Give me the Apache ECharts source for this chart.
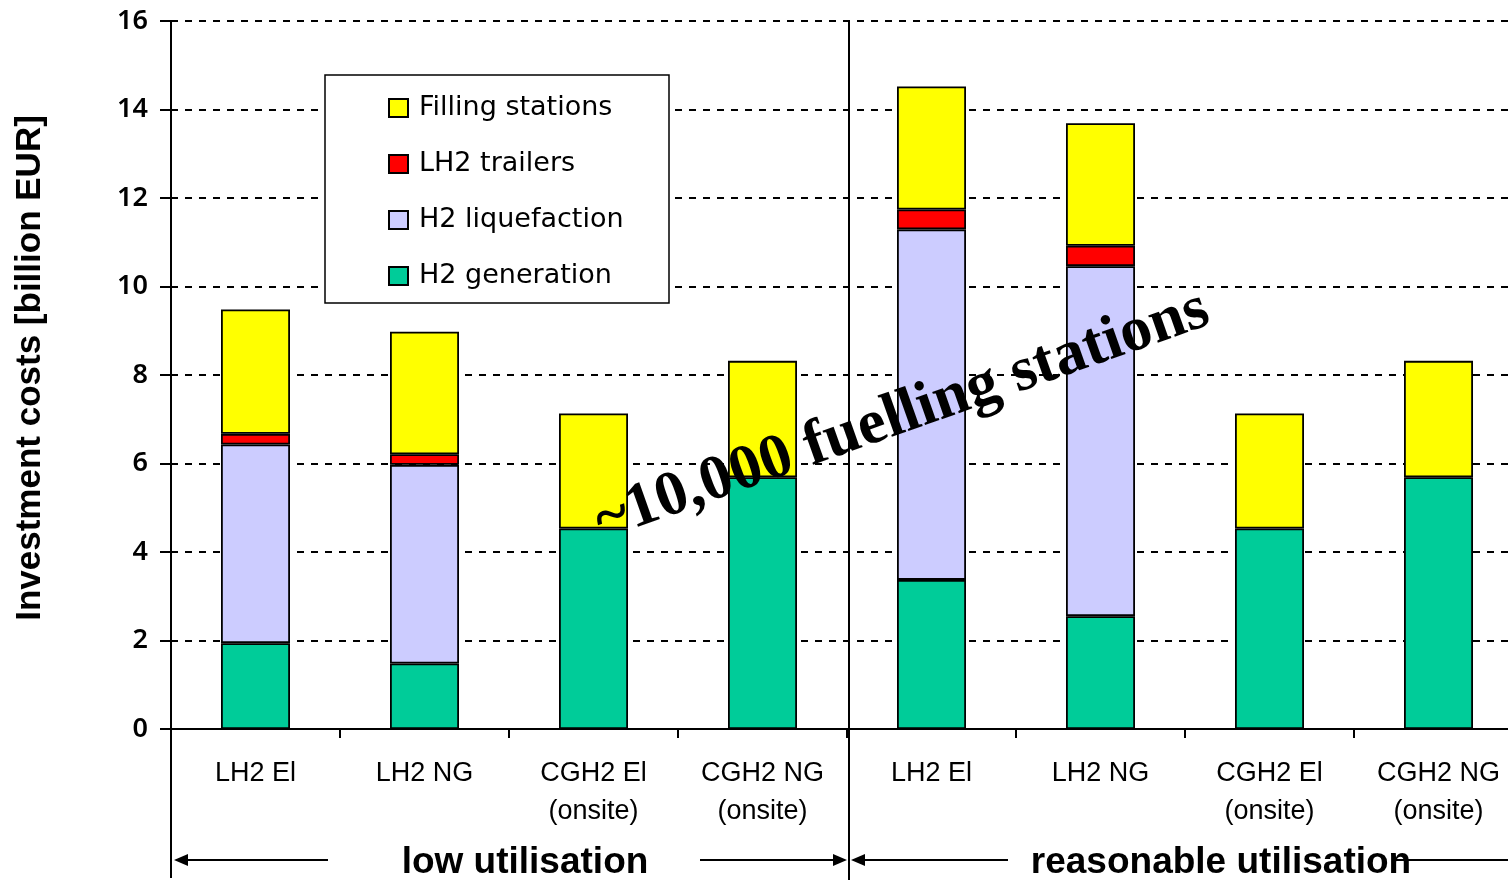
<!DOCTYPE html>
<html>
<head>
<meta charset="utf-8">
<script src="https://cdn.jsdelivr.net/npm/echarts@6/dist/echarts.min.js"></script>
<style>
html,body{margin:0;padding:0;background:#fff;}
#chart{width:1508px;height:880px;}
</style>
</head>
<body>
<div id="chart"></div>
<script>
// ---- data ----
var categories = ['LH2 El', 'LH2 NG', 'CGH2 El\n(onsite)', 'CGH2 NG\n(onsite)',
                  'LH2 El', 'LH2 NG', 'CGH2 El\n(onsite)', 'CGH2 NG\n(onsite)'];
var h2Generation   = [1.94, 1.48, 4.53, 5.69, 3.37, 2.55, 4.53, 5.69];
var h2Liquefaction = [4.49, 4.49, 0, 0, 7.92, 7.91, 0, 0];
var lh2Trailers    = [0.24, 0.24, 0, 0, 0.45, 0.46, 0, 0];
var fillingStations = [2.81, 2.77, 2.60, 2.63, 2.78, 2.77, 2.60, 2.63];
var yTicks = [0, 2, 4, 6, 8, 10, 12, 14, 16];
var groupLabels = ['low utilisation', 'reasonable utilisation'];
var annotation = '~10,000 fuelling stations';
var yTitle = 'Investment costs [billion EUR]';

function clean(arr){ return arr.map(function(v){ return v === 0 ? '-' : v; }); }

var chart = echarts.init(document.getElementById('chart'), null, {renderer:'canvas'});
var border = {borderColor:'#000', borderWidth:1.8};
function bar(name, data, color){
  return {
    name: name, type:'bar', stack:'total', barWidth:69,
    data: clean(data),
    itemStyle: Object.assign({color:color}, border),
    emphasis:{disabled:true}
  };
}

var sansN = 'Liberation Sans';
var arrowY = 860;
var graphics = [
  // legend box
  {type:'rect', shape:{x:325, y:75, width:344, height:228}, style:{fill:'#fff', stroke:'#000', lineWidth:1.5}, z:10},
  // vertical divider and left extension
  {type:'line', shape:{x1:849, y1:21, x2:849, y2:880}, style:{stroke:'#000', lineWidth:2}, z:30},
  {type:'line', shape:{x1:171, y1:729, x2:171, y2:878}, style:{stroke:'#000', lineWidth:2}, z:30},
  // arrows group 1
  {type:'line', shape:{x1:185, y1:arrowY, x2:328, y2:arrowY}, style:{stroke:'#000', lineWidth:2}, z:30},
  {type:'polygon', shape:{points:[[174,arrowY],[188,arrowY-6],[188,arrowY+6]]}, style:{fill:'#000'}, z:30},
  {type:'line', shape:{x1:700, y1:arrowY, x2:836, y2:arrowY}, style:{stroke:'#000', lineWidth:2}, z:30},
  {type:'polygon', shape:{points:[[847,arrowY],[833,arrowY-6],[833,arrowY+6]]}, style:{fill:'#000'}, z:30},
  // arrows group 2
  {type:'line', shape:{x1:862, y1:arrowY, x2:1008, y2:arrowY}, style:{stroke:'#000', lineWidth:2}, z:30},
  {type:'polygon', shape:{points:[[851,arrowY],[865,arrowY-6],[865,arrowY+6]]}, style:{fill:'#000'}, z:30},
  {type:'line', shape:{x1:1395, y1:arrowY, x2:1520, y2:arrowY}, style:{stroke:'#000', lineWidth:2}, z:30},
  // group labels
  {type:'text', x:525, y:863, style:{text:groupLabels[0], font:'bold 37px "Liberation Sans"', fill:'#000', align:'center', verticalAlign:'middle'}, z:40},
  {type:'text', x:1221, y:863, style:{text:groupLabels[1], font:'bold 37px "Liberation Sans"', fill:'#000', align:'center', verticalAlign:'middle'}, z:40},
  // y-axis title
  {type:'text', x:30, y:368, rotation:Math.PI/2, style:{text:yTitle, font:'bold 35px "Liberation Sans"', fill:'#000', align:'center', verticalAlign:'middle'}, z:40},
  // annotation
  {type:'text', x:902, y:416, rotation:19.5*Math.PI/180, style:{text:annotation, font:'bold 63px "Liberation Serif"', fill:'#000', align:'center', verticalAlign:'middle'}, z:100}
];

var option = {
  backgroundColor:'#fff',
  animation:false,
  grid:{left:171, width:1352, top:21, bottom:151, containLabel:false, outerBoundsMode:'none'},
  legend:{
    data:['Filling stations','LH2 trailers','H2 liquefaction','H2 generation'],
    orient:'vertical', left:388, top:94, padding:0,
    itemWidth:19, itemHeight:18, itemGap:28, icon:'rect',
    selectedMode:false, z:20,
    textStyle:{fontFamily:'DejaVu Sans', fontSize:27, color:'#000', lineHeight:28, padding:[0,0,0,6]}
  },
  xAxis:{
    type:'category', data:categories,
    axisLine:{lineStyle:{color:'#000', width:2}},
    axisTick:{show:true, length:9, interval:0, lineStyle:{color:'#000', width:2}},
    axisLabel:{interval:0, margin:26, fontFamily:sansN, fontSize:27, color:'#000', lineHeight:38},
    splitLine:{show:false}
  },
  yAxis:{
    type:'value', min:yTicks[0], max:yTicks[yTicks.length-1], interval:2,
    axisLine:{show:true, lineStyle:{color:'#000', width:2}},
    axisTick:{show:true, inside:false, length:11, lineStyle:{color:'#000', width:2}},
    axisLabel:{margin:23, fontFamily:'Noto Sans', fontWeight:600, fontSize:27, color:'#000'},
    splitLine:{show:true, lineStyle:{color:'#000', type:[7,7], width:2}}
  },
  series:[
    bar('H2 generation', h2Generation, '#00CC99'),
    bar('H2 liquefaction', h2Liquefaction, '#CCCCFF'),
    bar('LH2 trailers', lh2Trailers, '#FF0000'),
    bar('Filling stations', fillingStations, '#FFFF00')
  ],
  graphic:graphics
};
chart.setOption(option);
</script>
</body>
</html>
